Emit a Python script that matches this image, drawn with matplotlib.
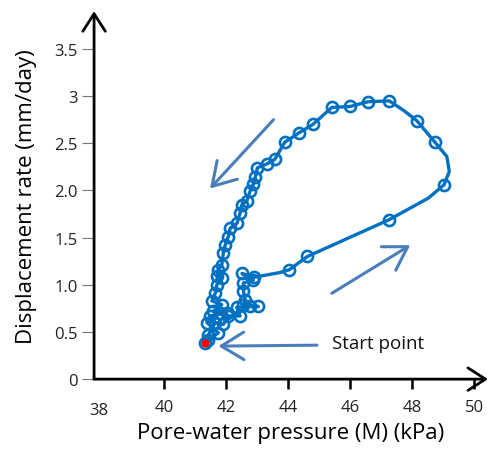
import numpy as np
import matplotlib.pyplot as plt

plt.rcParams['font.family'] = ['Open Sans', 'DejaVu Sans']

# pore-water pressure (kPa) and displacement rate (mm/day), in path order
pwp = [41.32, 41.43, 41.65, 41.91, 42.07, 42.45, 42.34, 42.77, 43.04, 42.56,
       42.61, 42.56, 42.56, 42.88, 42.51, 42.90, 43.74, 44.04, 44.62, 47.26,
       48.53, 49.03, 49.20, 49.12, 48.74, 48.15, 47.72, 47.26, 46.57, 46.00,
       45.41, 44.80, 44.35, 43.89, 43.57, 43.31, 43.01, 42.94, 42.88, 42.77,
       42.67, 42.51, 42.45, 42.35, 42.13, 42.07, 41.97, 41.91, 41.86, 41.75,
       41.70, 41.86, 41.70, 41.65, 41.54, 41.86, 41.59, 41.81, 42.02, 41.48,
       41.38, 41.75, 41.43]
rate = [0.38, 0.47, 0.60, 0.58, 0.67, 0.67, 0.76, 0.77, 0.77, 0.79,
        0.84, 0.93, 1.02, 1.05, 1.12, 1.08, 1.13, 1.16, 1.30, 1.69,
        1.92, 2.06, 2.20, 2.36, 2.51, 2.74, 2.85, 2.95, 2.94, 2.89,
        2.88, 2.70, 2.61, 2.51, 2.33, 2.28, 2.24, 2.14, 2.07, 1.99,
        1.89, 1.85, 1.76, 1.65, 1.60, 1.51, 1.42, 1.34, 1.21, 1.16,
        1.09, 1.07, 1.00, 0.91, 0.83, 0.79, 0.72, 0.70, 0.70, 0.67,
        0.60, 0.49, 0.42]
# vertices of the line that carry no marker
bends = [16, 20, 22, 23, 26]

xticks = [38, 40, 42, 44, 46, 48, 50]
yticks = [0, 0.5, 1.0, 1.5, 2.0, 2.5, 3.0, 3.5]
ylabels = ['0', '0.5', '1.0', '1.5', '2.0', '2.5', '3', '3.5']

line_c = '#0070C0'
arrow_c = '#4A7EBB'

fig = plt.figure(figsize=(4.9, 4.52), dpi=100)
ax = fig.add_axes([0.192, 0.159, 0.804, 0.814])

marks = [i for i in range(len(pwp)) if i not in bends]
ax.plot(pwp, rate, color=line_c, lw=2.4, marker='o', markevery=marks,
        markersize=8, markerfacecolor='none', markeredgewidth=1.9,
        markeredgecolor=line_c, zorder=3)
ax.plot(pwp[0], rate[0], 'o', color='red', markersize=5, zorder=4)

ax.set_xlim(37.74, 50.45)
ax.set_ylim(0, 3.9)
ax.set_xticks(xticks[1:])
ax.set_yticks(yticks)
ax.set_yticklabels(ylabels)
for sp in ['top', 'right', 'left', 'bottom']:
    ax.spines[sp].set_visible(False)

# axes drawn as arrows
ax.annotate('', xy=(0, 1.0), xytext=(0, 0), xycoords='axes fraction',
            arrowprops=dict(arrowstyle='->,head_length=0.7,head_width=0.45',
                            lw=2.0, color='black', mutation_scale=18,
                            shrinkA=0, shrinkB=0), annotation_clip=False)
ax.annotate('', xy=(1.0, 0), xytext=(0, 0), xycoords='axes fraction',
            arrowprops=dict(arrowstyle='->,head_length=0.7,head_width=0.45',
                            lw=2.0, color='black', mutation_scale=18,
                            shrinkA=0, shrinkB=0), annotation_clip=False)

ax.tick_params(axis='x', direction='out', length=7, width=1.8, color='black',
               labelsize=12, pad=7, labelcolor='#222222')
ax.tick_params(axis='y', direction='out', length=9, width=0.8, color='#777777',
               labelsize=12, pad=3, labelcolor='#222222')
ax.text(37.9, -0.33, '38', ha='center', va='center', fontsize=12,
        color='#222222')

ax.set_xlabel('Pore-water pressure (M) (kPa)', fontsize=16, labelpad=5)
ax.set_ylabel('Displacement rate (mm/day)', fontsize=16, labelpad=12)

# direction arrows
arr = dict(arrowstyle='->,head_length=0.9,head_width=0.55', lw=2.2,
           color=arrow_c, mutation_scale=18, shrinkA=0, shrinkB=0)
ax.annotate('', xy=(41.48, 2.02), xytext=(43.53, 2.75), arrowprops=arr)
ax.annotate('', xy=(47.94, 1.42), xytext=(45.41, 0.91), arrowprops=arr)
ax.annotate('', xy=(41.75, 0.35), xytext=(44.93, 0.36), arrowprops=arr)
ax.text(45.41, 0.38, 'Start point', fontsize=13.5, va='center', ha='left',
        color='#111111')

fig.savefig('out.png', dpi=100)
